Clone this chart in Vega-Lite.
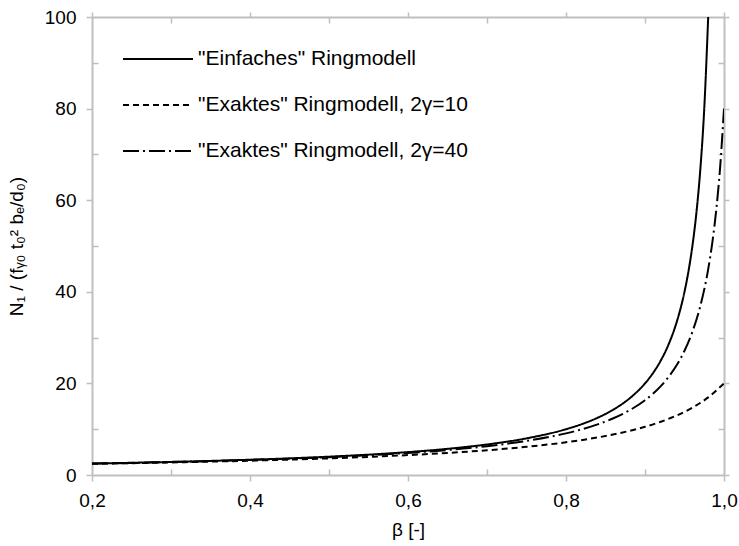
{
  "$schema": "https://vega.github.io/schema/vega-lite/v6.json",
  "width": 632,
  "height": 458,
  "autosize": {"type": "none"},
  "padding": {"left": 92, "top": 17, "right": 15, "bottom": 71},
  "background": "white",
  "config": {
    "view": {"stroke": null},
    "font": "Liberation Sans",
    "axis": {
      "domainColor": "#bfbfbf",
      "domainWidth": 2,
      "tickColor": "#bfbfbf",
      "tickWidth": 1.5,
      "grid": false,
      "labelFont": "Liberation Sans",
      "labelFontSize": 19,
      "labelColor": "black",
      "titleFont": "Liberation Sans",
      "titleFontSize": 19,
      "titleFontWeight": "normal",
      "titleColor": "black"
    }
  },
  "data": {
    "values": [
      {"beta": 0.20, "n": 2.5, "series": "\"Einfaches\" Ringmodell"},
      {"beta": 0.25, "n": 2.667, "series": "\"Einfaches\" Ringmodell"},
      {"beta": 0.30, "n": 2.857, "series": "\"Einfaches\" Ringmodell"},
      {"beta": 0.35, "n": 3.077, "series": "\"Einfaches\" Ringmodell"},
      {"beta": 0.40, "n": 3.333, "series": "\"Einfaches\" Ringmodell"},
      {"beta": 0.45, "n": 3.636, "series": "\"Einfaches\" Ringmodell"},
      {"beta": 0.50, "n": 4.0, "series": "\"Einfaches\" Ringmodell"},
      {"beta": 0.55, "n": 4.444, "series": "\"Einfaches\" Ringmodell"},
      {"beta": 0.60, "n": 5.0, "series": "\"Einfaches\" Ringmodell"},
      {"beta": 0.65, "n": 5.714, "series": "\"Einfaches\" Ringmodell"},
      {"beta": 0.70, "n": 6.667, "series": "\"Einfaches\" Ringmodell"},
      {"beta": 0.75, "n": 8.0, "series": "\"Einfaches\" Ringmodell"},
      {"beta": 0.80, "n": 10.0, "series": "\"Einfaches\" Ringmodell"},
      {"beta": 0.82, "n": 11.111, "series": "\"Einfaches\" Ringmodell"},
      {"beta": 0.84, "n": 12.5, "series": "\"Einfaches\" Ringmodell"},
      {"beta": 0.86, "n": 14.286, "series": "\"Einfaches\" Ringmodell"},
      {"beta": 0.88, "n": 16.667, "series": "\"Einfaches\" Ringmodell"},
      {"beta": 0.90, "n": 20.0, "series": "\"Einfaches\" Ringmodell"},
      {"beta": 0.91, "n": 22.222, "series": "\"Einfaches\" Ringmodell"},
      {"beta": 0.92, "n": 25.0, "series": "\"Einfaches\" Ringmodell"},
      {"beta": 0.93, "n": 28.571, "series": "\"Einfaches\" Ringmodell"},
      {"beta": 0.94, "n": 33.333, "series": "\"Einfaches\" Ringmodell"},
      {"beta": 0.95, "n": 40.0, "series": "\"Einfaches\" Ringmodell"},
      {"beta": 0.955, "n": 44.444, "series": "\"Einfaches\" Ringmodell"},
      {"beta": 0.96, "n": 50.0, "series": "\"Einfaches\" Ringmodell"},
      {"beta": 0.965, "n": 57.143, "series": "\"Einfaches\" Ringmodell"},
      {"beta": 0.97, "n": 66.667, "series": "\"Einfaches\" Ringmodell"},
      {"beta": 0.975, "n": 80.0, "series": "\"Einfaches\" Ringmodell"},
      {"beta": 0.98, "n": 100.0, "series": "\"Einfaches\" Ringmodell"},

      {"beta": 0.20, "n": 2.439, "series": "\"Exaktes\" Ringmodell, 2γ=10"},
      {"beta": 0.25, "n": 2.581, "series": "\"Exaktes\" Ringmodell, 2γ=10"},
      {"beta": 0.30, "n": 2.740, "series": "\"Exaktes\" Ringmodell, 2γ=10"},
      {"beta": 0.35, "n": 2.920, "series": "\"Exaktes\" Ringmodell, 2γ=10"},
      {"beta": 0.40, "n": 3.125, "series": "\"Exaktes\" Ringmodell, 2γ=10"},
      {"beta": 0.45, "n": 3.361, "series": "\"Exaktes\" Ringmodell, 2γ=10"},
      {"beta": 0.50, "n": 3.636, "series": "\"Exaktes\" Ringmodell, 2γ=10"},
      {"beta": 0.55, "n": 3.960, "series": "\"Exaktes\" Ringmodell, 2γ=10"},
      {"beta": 0.60, "n": 4.348, "series": "\"Exaktes\" Ringmodell, 2γ=10"},
      {"beta": 0.65, "n": 4.819, "series": "\"Exaktes\" Ringmodell, 2γ=10"},
      {"beta": 0.70, "n": 5.405, "series": "\"Exaktes\" Ringmodell, 2γ=10"},
      {"beta": 0.75, "n": 6.154, "series": "\"Exaktes\" Ringmodell, 2γ=10"},
      {"beta": 0.80, "n": 7.143, "series": "\"Exaktes\" Ringmodell, 2γ=10"},
      {"beta": 0.84, "n": 8.197, "series": "\"Exaktes\" Ringmodell, 2γ=10"},
      {"beta": 0.88, "n": 9.615, "series": "\"Exaktes\" Ringmodell, 2γ=10"},
      {"beta": 0.90, "n": 10.526, "series": "\"Exaktes\" Ringmodell, 2γ=10"},
      {"beta": 0.92, "n": 11.628, "series": "\"Exaktes\" Ringmodell, 2γ=10"},
      {"beta": 0.94, "n": 12.987, "series": "\"Exaktes\" Ringmodell, 2γ=10"},
      {"beta": 0.96, "n": 14.706, "series": "\"Exaktes\" Ringmodell, 2γ=10"},
      {"beta": 0.98, "n": 16.949, "series": "\"Exaktes\" Ringmodell, 2γ=10"},
      {"beta": 1.00, "n": 20.0, "series": "\"Exaktes\" Ringmodell, 2γ=10"},

      {"beta": 0.20, "n": 2.484, "series": "\"Exaktes\" Ringmodell, 2γ=40"},
      {"beta": 0.25, "n": 2.645, "series": "\"Exaktes\" Ringmodell, 2γ=40"},
      {"beta": 0.30, "n": 2.827, "series": "\"Exaktes\" Ringmodell, 2γ=40"},
      {"beta": 0.35, "n": 3.036, "series": "\"Exaktes\" Ringmodell, 2γ=40"},
      {"beta": 0.40, "n": 3.279, "series": "\"Exaktes\" Ringmodell, 2γ=40"},
      {"beta": 0.45, "n": 3.563, "series": "\"Exaktes\" Ringmodell, 2γ=40"},
      {"beta": 0.50, "n": 3.902, "series": "\"Exaktes\" Ringmodell, 2γ=40"},
      {"beta": 0.55, "n": 4.313, "series": "\"Exaktes\" Ringmodell, 2γ=40"},
      {"beta": 0.60, "n": 4.819, "series": "\"Exaktes\" Ringmodell, 2γ=40"},
      {"beta": 0.65, "n": 5.461, "series": "\"Exaktes\" Ringmodell, 2γ=40"},
      {"beta": 0.70, "n": 6.299, "series": "\"Exaktes\" Ringmodell, 2γ=40"},
      {"beta": 0.75, "n": 7.442, "series": "\"Exaktes\" Ringmodell, 2γ=40"},
      {"beta": 0.80, "n": 9.091, "series": "\"Exaktes\" Ringmodell, 2γ=40"},
      {"beta": 0.82, "n": 9.975, "series": "\"Exaktes\" Ringmodell, 2γ=40"},
      {"beta": 0.84, "n": 11.050, "series": "\"Exaktes\" Ringmodell, 2γ=40"},
      {"beta": 0.86, "n": 12.384, "series": "\"Exaktes\" Ringmodell, 2γ=40"},
      {"beta": 0.88, "n": 14.085, "series": "\"Exaktes\" Ringmodell, 2γ=40"},
      {"beta": 0.90, "n": 16.327, "series": "\"Exaktes\" Ringmodell, 2γ=40"},
      {"beta": 0.91, "n": 17.738, "series": "\"Exaktes\" Ringmodell, 2γ=40"},
      {"beta": 0.92, "n": 19.417, "series": "\"Exaktes\" Ringmodell, 2γ=40"},
      {"beta": 0.93, "n": 21.448, "series": "\"Exaktes\" Ringmodell, 2γ=40"},
      {"beta": 0.94, "n": 23.952, "series": "\"Exaktes\" Ringmodell, 2γ=40"},
      {"beta": 0.95, "n": 27.119, "series": "\"Exaktes\" Ringmodell, 2γ=40"},
      {"beta": 0.96, "n": 31.25, "series": "\"Exaktes\" Ringmodell, 2γ=40"},
      {"beta": 0.97, "n": 36.866, "series": "\"Exaktes\" Ringmodell, 2γ=40"},
      {"beta": 0.98, "n": 44.944, "series": "\"Exaktes\" Ringmodell, 2γ=40"},
      {"beta": 0.985, "n": 50.473, "series": "\"Exaktes\" Ringmodell, 2γ=40"},
      {"beta": 0.99, "n": 57.554, "series": "\"Exaktes\" Ringmodell, 2γ=40"},
      {"beta": 0.995, "n": 66.946, "series": "\"Exaktes\" Ringmodell, 2γ=40"},
      {"beta": 1.00, "n": 80.0, "series": "\"Exaktes\" Ringmodell, 2γ=40"}
    ]
  },
  "resolve": {"axis": {"x": "independent", "y": "independent"}},
  "layer": [
    {
      "mark": {"type": "line", "color": "black", "strokeWidth": 2, "clip": true, "interpolate": "monotone"},
      "encoding": {
        "x": {
          "field": "beta", "type": "quantitative",
          "scale": {"domain": [0.2, 1.0], "nice": false, "zero": false},
          "axis": {
            "title": "β [-]",
            "titlePadding": 10,
            "values": [0.2, 0.3, 0.4, 0.5, 0.6, 0.7, 0.8, 0.9, 1.0],
            "labelExpr": "round(datum.value*10) % 2 == 0 ? replace(format(datum.value, '.1f'), '.', ',') : ''",
            "tickSize": {"condition": {"test": "round(datum.value*10) % 2 == 0", "value": 6}, "value": -6},
            "labelPadding": 10,
            "labelFlush": false
          }
        },
        "y": {
          "field": "n", "type": "quantitative",
          "scale": {"domain": [0, 100], "nice": false},
          "axis": {
            "title": "N₁ / (fᵧ₀ t₀² bₑ/d₀)",
            "titlePadding": 18,
            "values": [0, 10, 20, 30, 40, 50, 60, 70, 80, 90, 100],
            "labelExpr": "datum.value % 20 == 0 ? format(datum.value, 'd') : ''",
            "tickSize": {"condition": {"test": "datum.value % 20 == 0", "value": 6}, "value": -6},
            "labelPadding": 10,
            "labelFlush": false
          }
        },
        "strokeDash": {
          "field": "series", "type": "nominal",
          "scale": {
            "domain": ["\"Einfaches\" Ringmodell", "\"Exaktes\" Ringmodell, 2γ=10", "\"Exaktes\" Ringmodell, 2γ=40"],
            "range": [[1, 0], [6, 4], [16, 4, 2, 4]]
          },
          "legend": {
            "title": null,
            "orient": "none",
            "legendX": 30,
            "legendY": 6,
            "symbolType": "stroke",
            "symbolSize": 4900,
            "symbolStrokeColor": "black",
            "symbolStrokeWidth": 2,
            "labelFont": "Liberation Sans",
            "labelFontSize": 21,
            "labelColor": "black",
            "labelOffset": 4,
            "rowPadding": 0,
            "labelLimit": 400
          }
        }
      }
    },
    {
      "mark": {"type": "line", "opacity": 0},
      "encoding": {
        "x": {
          "field": "beta", "type": "quantitative",
          "axis": {
            "orient": "top", "title": null, "labels": false,
            "values": [0.2, 0.3, 0.4, 0.5, 0.6, 0.7, 0.8, 0.9, 1.0],
            "tickSize": {"condition": {"test": "round(datum.value*10) % 2 == 0", "value": 5}, "value": -6}
          }
        },
        "y": {
          "field": "n", "type": "quantitative",
          "axis": {
            "orient": "right", "title": null, "labels": false,
            "values": [0, 10, 20, 30, 40, 50, 60, 70, 80, 90, 100],
            "tickSize": {"condition": {"test": "datum.value % 20 == 0", "value": 5}, "value": -6}
          }
        },
        "detail": {"field": "series", "type": "nominal"}
      }
    }
  ]
}
